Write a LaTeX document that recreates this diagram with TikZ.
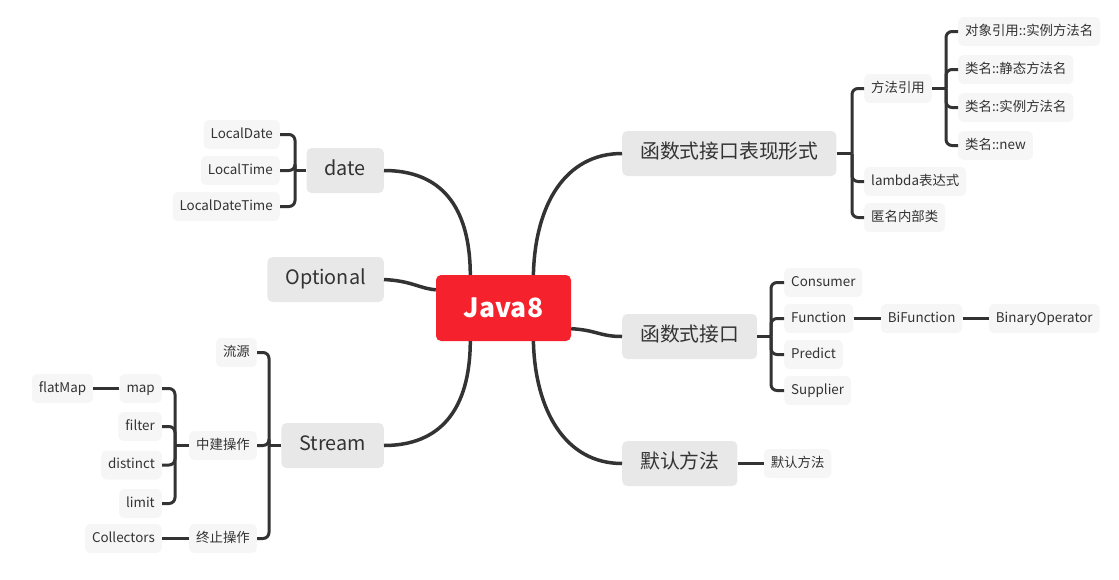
\documentclass[tikz,border=0pt]{standalone}
\usepackage{fontspec}
\setmainfont{Noto Sans CJK SC}
\usetikzlibrary{positioning}
\definecolor{javared}{HTML}{F5222D}
\definecolor{topicgray}{HTML}{E8E8E8}
\definecolor{leafgray}{HTML}{F6F6F6}
\definecolor{inkdark}{HTML}{333333}

\begin{document}
\begin{tikzpicture}[x=1pt, y=-1pt,
  root/.style={rectangle, fill=javared, text=white, rounded corners=5pt,
    minimum width=135pt, minimum height=66pt,
    font=\fontsize{26.5}{30}\selectfont\bfseries},
  topic/.style={rectangle, fill=topicgray, text=inkdark, rounded corners=5pt,
    inner xsep=18pt, minimum height=45pt, text height=14pt, text depth=4pt,
    font=\fontsize{19.8}{22}\selectfont},
  leaf/.style={rectangle, fill=leafgray, text=inkdark, rounded corners=5pt,
    inner xsep=7pt, minimum height=29pt, text height=10pt, text depth=3pt,
    font=\fontsize{13.4}{15}\selectfont},
  branch/.style={draw=inkdark, line width=3.5pt},
  twig/.style={draw=inkdark, line width=3pt, rounded corners=6pt}
]
  \useasboundingbox (0,0) rectangle (1119,579);

  % centre and main topics
  \node[root] (java) at (503.5,308) {Java8};
  \node[topic, anchor=west] (form) at (622,153.5) {函数式接口表现形式};
  \node[topic, anchor=west] (iface) at (622,336.5) {函数式接口};
  \node[topic, anchor=west] (dflt) at (622,463.5) {默认方法};
  \node[topic, anchor=east] (date) at (384,170.5) {date};
  \node[topic, anchor=east] (optional) at (384,279.5) {Optional};
  \node[topic, anchor=east] (stream) at (384,445.5) {Stream};

  % right side leaves
  \node[leaf, anchor=west] (ref) at (864,88.5) {方法引用};
  \node[leaf, anchor=west] (ref1) at (958,31.5) {对象引用::实例方法名};
  \node[leaf, anchor=west] (ref2) at (958,69.5) {类名::静态方法名};
  \node[leaf, anchor=west] (ref3) at (958,107.5) {类名::实例方法名};
  \node[leaf, anchor=west] (ref4) at (958,145.5) {类名::new};
  \node[leaf, anchor=west] (lam) at (864,181.5) {lambda表达式};
  \node[leaf, anchor=west] (anon) at (864,217.5) {匿名内部类};
  \node[leaf, anchor=west] (cons) at (784,282.5) {Consumer};
  \node[leaf, anchor=west] (func) at (784,318.5) {Function};
  \node[leaf, right=27pt of func] (bifunc) {BiFunction};
  \node[leaf, right=26pt of bifunc] (binop) {BinaryOperator};
  \node[leaf, anchor=west] (pred) at (784,354.5) {Predict};
  \node[leaf, anchor=west] (supp) at (784,390.5) {Supplier};
  \node[leaf, right=26pt of dflt] (dleaf) {默认方法};

  % left side leaves
  \node[leaf, anchor=east] (ldate) at (280,134.5) {LocalDate};
  \node[leaf, anchor=east] (ltime) at (280,170.5) {LocalTime};
  \node[leaf, anchor=east] (ldt) at (280,206.5) {LocalDateTime};
  \node[leaf, anchor=east] (src) at (257,352.5) {流源};
  \node[leaf, anchor=east] (mid) at (257,445.5) {中建操作};
  \node[leaf, anchor=east] (term) at (257,538.5) {终止操作};
  \node[leaf, anchor=east] (map) at (162,388.5) {map};
  \node[leaf, anchor=east] (filter) at (162,426.5) {filter};
  \node[leaf, anchor=east] (distinct) at (162,465) {distinct};
  \node[leaf, anchor=east] (limit) at (162,503.5) {limit};
  \node[leaf, left=26pt of map] (flat) {flatMap};
  \node[leaf, left=27pt of term] (coll) {Collectors};

  % main branches
  \draw[branch] (date.east) .. controls (440,170.5) and (470,205) .. (java.135);
  \draw[branch] (optional.east) .. controls (412,281) and (418,288) .. (java.165);
  \draw[branch] (stream.east) .. controls (440,445.5) and (470,410) .. (java.225);
  \draw[branch] (java.48) .. controls (535,205) and (565,153.5) .. (form.west);
  \draw[branch] (java.343) .. controls (596,330) and (600,336.5) .. (iface.west);
  \draw[branch] (java.312) .. controls (535,410) and (565,463.5) .. (dflt.west);

  % spines
  \coordinate (formsp) at (852,153.5);
  \coordinate (refsp) at (946,88.5);
  \coordinate (ifacesp) at (771,336.5);
  \coordinate (datesp) at (295,170.5);
  \coordinate (streamsp) at (269,445.5);
  \coordinate (midsp) at (175,445.5);

  \draw[twig] (form.east) -- (formsp);
  \foreach \n in {ref,lam,anon} \draw[twig] (formsp) |- (\n.west);
  \draw[twig] (ref.east) -- (refsp);
  \foreach \n in {ref1,ref2,ref3,ref4} \draw[twig] (refsp) |- (\n.west);
  \draw[twig] (iface.east) -- (ifacesp);
  \foreach \n in {cons,func,pred,supp} \draw[twig] (ifacesp) |- (\n.west);
  \draw[twig] (func) -- (bifunc);
  \draw[twig] (bifunc) -- (binop);
  \draw[twig] (dflt) -- (dleaf);

  \draw[twig] (date.west) -- (datesp);
  \foreach \n in {ldate,ltime,ldt} \draw[twig] (datesp) |- (\n.east);
  \draw[twig] (stream.west) -- (streamsp);
  \foreach \n in {src,mid,term} \draw[twig] (streamsp) |- (\n.east);
  \draw[twig] (mid.west) -- (midsp);
  \foreach \n in {map,filter,distinct,limit} \draw[twig] (midsp) |- (\n.east);
  \draw[twig] (map) -- (flat);
  \draw[twig] (term) -- (coll);
\end{tikzpicture}
\end{document}
